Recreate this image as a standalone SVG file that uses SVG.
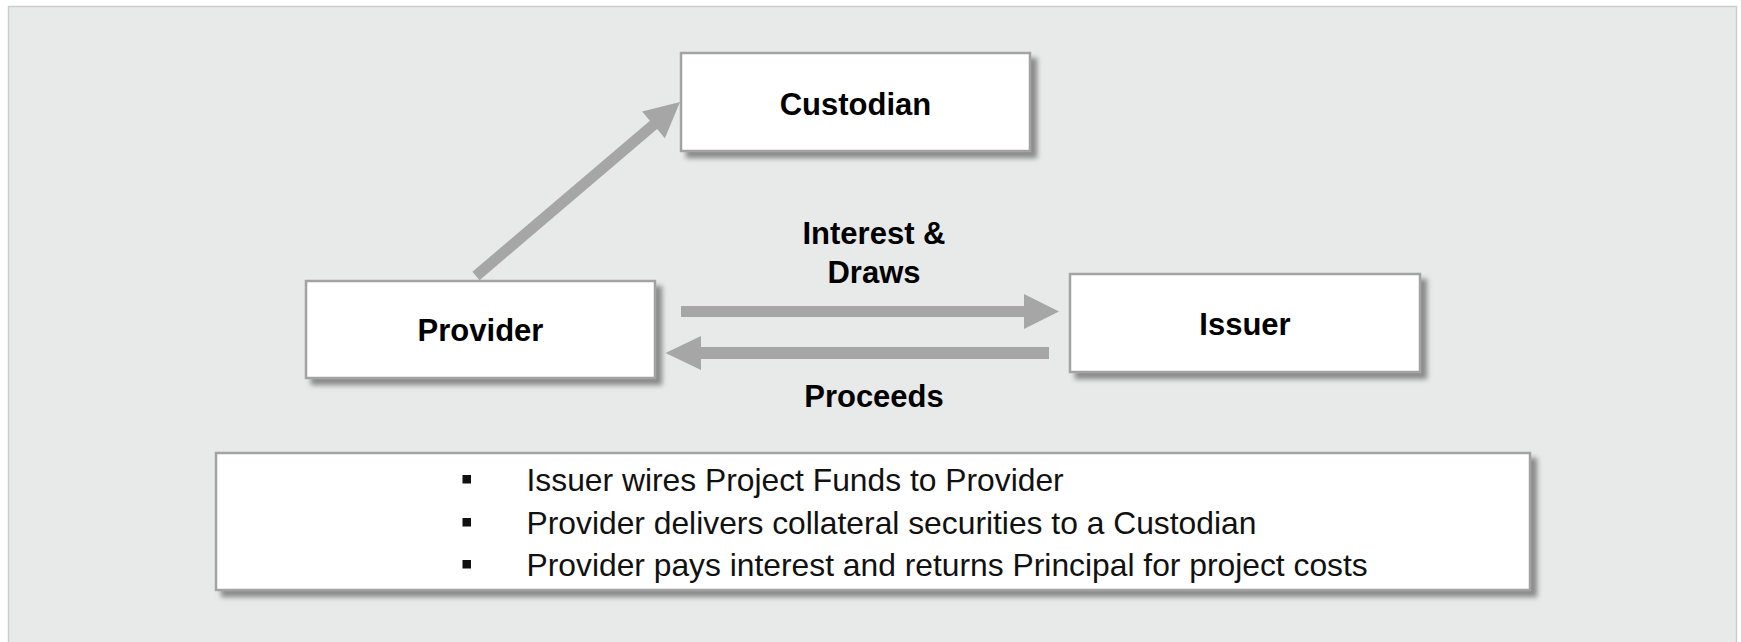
<svg xmlns="http://www.w3.org/2000/svg" width="1741" height="642" viewBox="0 0 1741 642">
  <defs>
    <filter id="shadow" x="-5%" y="-10%" width="115%" height="130%">
      <feDropShadow dx="6" dy="6" stdDeviation="2.5" flood-color="#7a7a7a" flood-opacity="0.85"/>
    </filter>
    <style>
      .box { fill: #ffffff; stroke: #a3a3a3; stroke-width: 2.5; filter: url(#shadow); }
      .label { font-family: "Liberation Sans", Arial, sans-serif; font-weight: bold; font-size: 31px; fill: #000000; text-anchor: middle; }
      .item { font-family: "Liberation Sans", Arial, sans-serif; font-size: 31.8px; fill: #111111; }
      .bullet { fill: #111111; }
      .arrow { fill: #a6a6a6; }
    </style>
  </defs>

  <!-- background panel -->
  <rect x="8.5" y="6.5" width="1728" height="650" fill="#e8eaea" stroke="#cdcdcd" stroke-width="1.5"/>

  <!-- connectors -->
  <g id="connectors">
    <!-- Provider to Custodian -->
    <polygon class="arrow" points="479.6,280.2 657.1,129.1 664.9,138.2 680,102 642.1,111.6 649.9,120.7 472.4,271.8"/>
    <!-- Provider to Issuer -->
    <polygon class="arrow" points="681,306 1024,306 1024,294 1059,311.5 1024,329 1024,317 681,317"/>
    <!-- Issuer to Provider -->
    <polygon class="arrow" points="1049,347 701,347 701,336 665.5,353 701,370 701,359 1049,359"/>
    <text class="label" x="874" y="244">Interest &amp;</text>
    <text class="label" x="874" y="283">Draws</text>
    <text class="label" x="874" y="407">Proceeds</text>
  </g>

  <g id="custodian">
    <rect class="box" x="681" y="53" width="349" height="98"/>
    <text class="label" x="855.5" y="115">Custodian</text>
  </g>

  <g id="provider">
    <rect class="box" x="306" y="281" width="349" height="97"/>
    <text class="label" x="480.5" y="341">Provider</text>
  </g>

  <g id="issuer">
    <rect class="box" x="1070" y="274" width="350" height="98"/>
    <text class="label" x="1245" y="335">Issuer</text>
  </g>

  <g id="notes">
    <rect class="box" x="216" y="453" width="1314" height="137"/>
    <rect class="bullet" x="462.5" y="475" width="8.5" height="8.5"/>
    <rect class="bullet" x="462.5" y="518" width="8.5" height="8.5"/>
    <rect class="bullet" x="462.5" y="560" width="8.5" height="8.5"/>
    <text class="item" x="526.5" y="491">Issuer wires Project Funds to Provider</text>
    <text class="item" x="526.5" y="534">Provider delivers collateral securities to a Custodian</text>
    <text class="item" x="526.5" y="576">Provider pays interest and returns Principal for project costs</text>
  </g>
</svg>
